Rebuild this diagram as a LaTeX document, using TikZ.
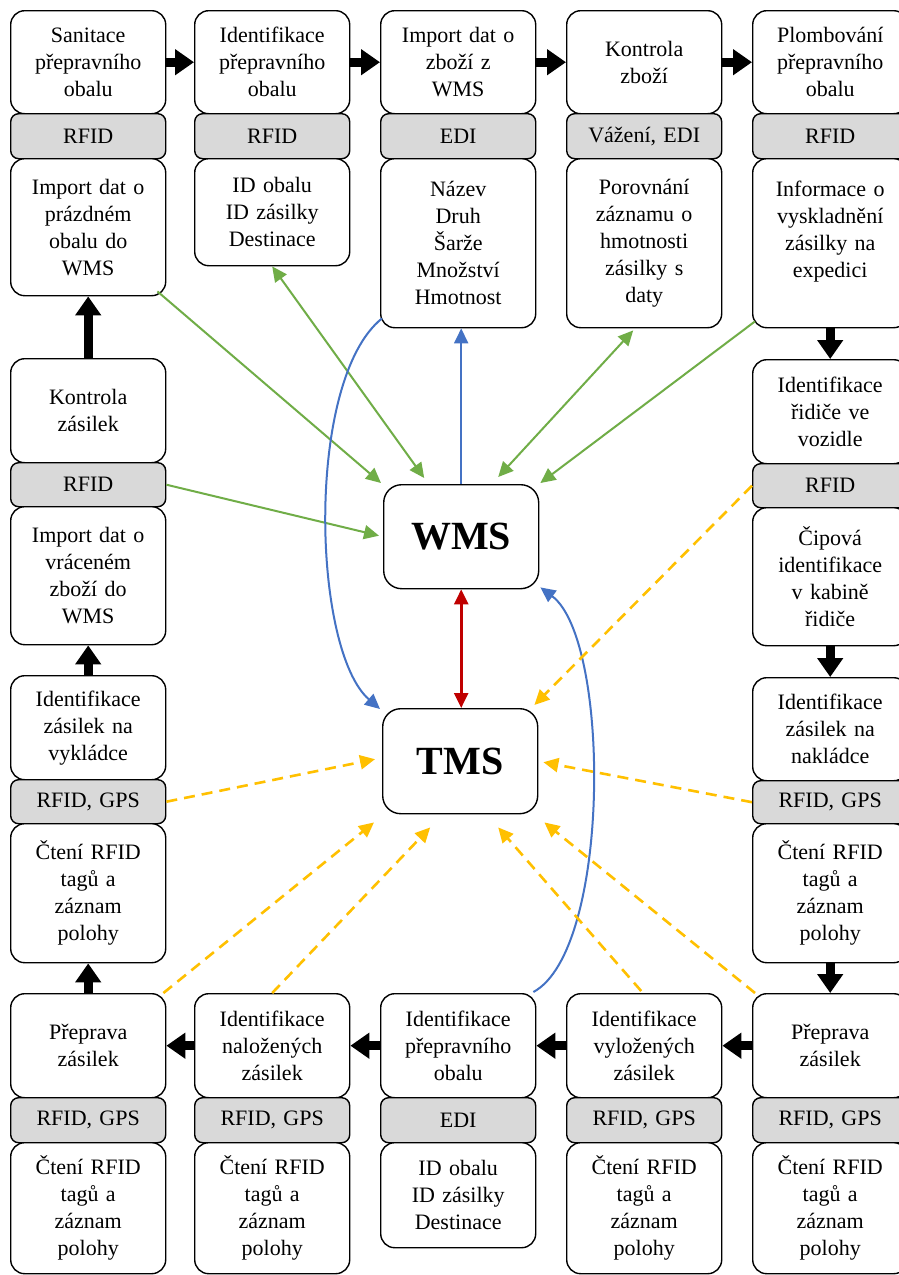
\documentclass[tikz,border=0pt]{standalone}
\usepackage{fontspec}
\setmainfont{Liberation Serif}
\usetikzlibrary{arrows.meta,calc}

\definecolor{stripgray}{HTML}{D9D9D9}
\definecolor{flowgreen}{HTML}{70AD47}
\definecolor{flowblue}{HTML}{4472C4}
\definecolor{flowred}{HTML}{C00000}
\definecolor{flowyellow}{HTML}{FFC000}

\tikzset{
  stepbox/.style={draw, line width=1.4pt, rounded corners=14pt, fill=white,
    minimum width=155pt, inner sep=0pt, text width=150pt, align=center,
    anchor=north west, font=\fontsize{22}{27}\selectfont},
  stripbox/.style={stepbox, fill=stripgray, rounded corners=8pt},
  sysbox/.style={draw, line width=1.4pt, rounded corners=18pt, fill=white,
    anchor=north west, inner sep=0pt, minimum width=155pt,
    font=\fontsize{40}{44}\selectfont\bfseries},
  flow/.style={line width=9pt, -{Triangle[length=19pt,width=25pt]}},
  green link/.style={flowgreen, line width=2pt, ->},
  blue link/.style={flowblue, line width=2pt, ->},
  red link/.style={flowred, line width=2.6pt, <->},
  yellow link/.style={flowyellow, line width=2.6pt, dash pattern=on 11pt off 7pt, ->},
}

% one process step: title box, technology strip, data box
\newcommand\procstack[9]{%
  \node[stepbox, minimum height={(#4-#3)*1pt}] (#1u) at (#2,#3) {#7};
  \node[stripbox, minimum height={(#5-#4)*1pt}] (#1g) at (#2,#4) {#8};
  \node[stepbox, minimum height={(#6-#5)*1pt}] (#1l) at (#2,#5) {#9};
}

\begin{document}
\begin{tikzpicture}[x=1pt, y=-1pt, >={Triangle[length=15pt,width=14pt]}]
\useasboundingbox[fill=white] (0,0) rectangle (899,1275);

% top row
\procstack{A1}{10}{10}{113}{158}{295}{Sanitace\\přepravního\\obalu}{RFID}{Import dat o\\prázdném\\obalu do\\WMS}
\procstack{A2}{194}{10}{113}{158}{265}{Identifikace\\přepravního\\obalu}{RFID}{ID obalu\\ID zásilky\\Destinace}
\procstack{A3}{380}{10}{113}{158}{327}{Import dat o\\zboží z\\WMS}{EDI}{Název\\Druh\\Šarže\\Množství\\Hmotnost}
\procstack{A4}{566}{10}{113}{158}{327}{Kontrola\\zboží}{Vážení, EDI}{Porovnání\\záznamu o\\hmotnosti\\zásilky s\\daty}
\procstack{A5}{752}{10}{113}{158}{327}{Plombování\\přepravního\\obalu}{RFID}{Informace o\\vyskladnění\\zásilky na\\expedici\\\mbox{}}

% left column
\procstack{L1}{10}{358}{462}{506}{644}{Kontrola\\zásilek}{RFID}{Import dat o\\vráceném\\zboží do\\WMS}
\procstack{L2}{10}{675}{779}{823}{962}{Identifikace\\zásilek na\\vykládce}{RFID, GPS}{Čtení RFID\\tagů a\\záznam\\polohy}

% right column
\procstack{R1}{752}{359}{463}{507}{645}{Identifikace\\řidiče ve\\vozidle}{RFID}{Čipová\\identifikace\\v kabině\\řidiče}
\procstack{R2}{752}{677}{780}{823}{962}{Identifikace\\zásilek na\\nakládce}{RFID, GPS}{Čtení RFID\\tagů a\\záznam\\polohy}

% bottom row
\procstack{B1}{10}{993}{1097}{1142}{1273}{Přeprava\\zásilek}{RFID, GPS}{Čtení RFID\\tagů a\\záznam\\polohy}
\procstack{B2}{194}{993}{1097}{1142}{1273}{Identifikace\\naložených\\zásilek}{RFID, GPS}{Čtení RFID\\tagů a\\záznam\\polohy}
\procstack{B3}{380}{993}{1097}{1142}{1247}{Identifikace\\přepravního\\obalu}{EDI}{ID obalu\\ID zásilky\\Destinace}
\procstack{B4}{566}{993}{1097}{1142}{1273}{Identifikace\\vyložených\\zásilek}{RFID, GPS}{Čtení RFID\\tagů a\\záznam\\polohy}
\procstack{B5}{752}{993}{1097}{1142}{1273}{Přeprava\\zásilek}{RFID, GPS}{Čtení RFID\\tagů a\\záznam\\polohy}

% information systems
\node[sysbox, minimum height=104pt] (WMS) at (383,484) {WMS};
\node[sysbox, minimum height=105pt] (TMS) at (382,708) {TMS};

% process flow
\draw[flow] (A1u) -- (A2u);
\draw[flow] (A2u) -- (A3u);
\draw[flow] (A3u) -- (A4u);
\draw[flow] (A4u) -- (A5u);
\draw[flow] (A5l) -- (R1u);
\draw[flow] (R1l) -- (R2u);
\draw[flow] (R2l) -- (B5u);
\draw[flow] (B5u) -- (B4u);
\draw[flow] (B4u) -- (B3u);
\draw[flow] (B3u) -- (B2u);
\draw[flow] (B2u) -- (B1u);
\draw[flow] (B1u) -- (L2l);
\draw[flow] (L2u) -- (L1l);
\draw[flow] (L1u) -- (A1l);

% data exchange with WMS
\draw[green link] ([shift={(-9,-5)}]A1l.south east) -- ([shift={(-2,-1)}]WMS.north west);
\draw[green link, <->] (A2l.south) -- ([shift={(-37,-6)}]WMS.north);
\draw[green link, <->] ([shift={(-11,2)}]A4l.south) -- ([shift={(37,-7)}]WMS.north);
\draw[green link] ([shift={(3,-7)}]A5l.south west) -- ([shift={(1,-1)}]WMS.north east);
\draw[green link] (L1g.east) -- ([shift={(-4,-1)}]WMS.west);
\draw[blue link] (WMS.north) -- (WMS.north |- A3l.south);
\draw[blue link] ([shift={(2,-10)}]A3l.south west) .. controls (305,380) and (312,650) .. ([shift={(-2,1)}]TMS.north west);
\draw[blue link] ([shift={(-3,-1)}]B3u.north east) .. controls (611,950) and (611,640) .. ([shift={(1,-2)}]WMS.south east);
\draw[red link] (WMS.south) -- (WMS.south |- TMS.north);

% data exchange with TMS
\draw[yellow link] (R1g.west) -- ([shift={(-4,-3)}]TMS.north east);
\draw[yellow link] (L2g.east) -- ([shift={(-7,-2)}]TMS.west);
\draw[yellow link] (R2g.west) -- ([shift={(5,1)}]TMS.east);
\draw[yellow link] ([shift={(-3,0)}]B1u.north east) -- ([shift={(-8,8)}]TMS.south west);
\draw[yellow link] (B2u.north) -- ([shift={(-30,13)}]TMS.south);
\draw[yellow link] ([shift={(-3,-2)}]B4u.north) -- ([shift={(38,13)}]TMS.south);
\draw[yellow link] ([shift={(3,0)}]B5u.north west) -- ([shift={(6,8)}]TMS.south east);
\end{tikzpicture}
\end{document}
